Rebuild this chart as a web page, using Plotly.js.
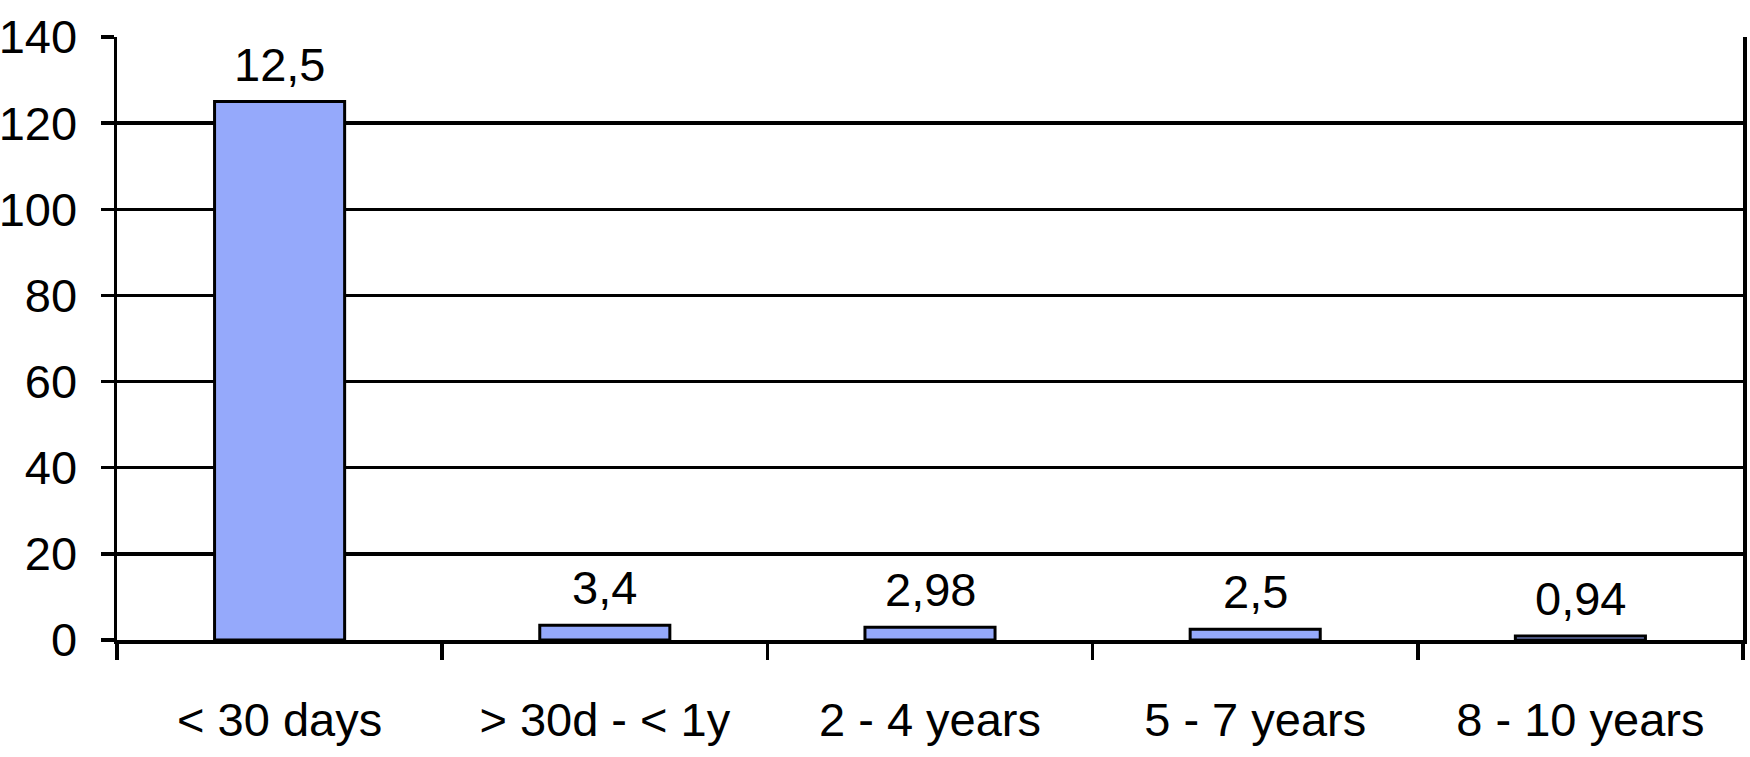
<!DOCTYPE html>
<html>
<head>
<meta charset="utf-8">
<script src="https://cdn.plot.ly/plotly-3.0.1.min.js"></script>
<style>html,body{margin:0;padding:0;background:#fff;}#chart{width:1750px;height:757px;}</style>
</head>
<body>
<div id="chart"></div>
<script>
const categories = ["< 30 days", "> 30d - < 1y", "2 - 4 years", "5 - 7 years", "8 - 10 years"];
const barHeights = [125, 3.4, 2.98, 2.5, 0.94];
const barLabels = ["12,5", "3,4", "2,98", "2,5", "0,94"];
const yTickValues = [0, 20, 40, 60, 80, 100, 120, 140];

const FONT = "Liberation Sans, Arial, Helvetica, sans-serif";
const FS = 47;

const trace = {
  type: "bar",
  x: categories,
  y: barHeights,
  marker: { color: "#95a9fb", line: { color: "#000", width: 3 } },
  hoverinfo: "skip"
};

const annotations = categories.map((c, i) => ({
  x: c, y: barHeights[i], text: barLabels[i],
  xref: "x", yref: "y", showarrow: false,
  yanchor: "bottom", yshift: 9,
  font: { family: FONT, size: FS, color: "#000" }
}));

const layout = {
  width: 1750, height: 757,
  margin: { l: 117, r: 7, t: 37, b: 117, pad: 0 },
  paper_bgcolor: "#fff", plot_bgcolor: "#fff",
  showlegend: false,
  bargap: 0.6,
  font: { family: FONT, size: FS, color: "#000" },
  xaxis: {
    type: "category",
    tickson: "boundaries",
    ticks: "outside", ticklen: 16, tickwidth: 3.5, tickcolor: "#000",
    showline: true, linecolor: "#000", linewidth: 3.5,
    showgrid: false, zeroline: false,
    ticklabelstandoff: 36,
    tickfont: { family: FONT, size: FS, color: "#000" }
  },
  yaxis: {
    range: [0, 140],
    tickvals: yTickValues,
    ticktext: yTickValues.map(String),
    ticks: "outside", ticklen: 13, tickwidth: 3.5, tickcolor: "#000",
    showline: true, linecolor: "#000", linewidth: 3.5, mirror: true,
    showgrid: true, gridcolor: "#000", gridwidth: 3.5,
    zeroline: false,
    ticklabelstandoff: 14,
    tickfont: { family: FONT, size: FS, color: "#000" }
  },
  annotations: annotations
};

Plotly.newPlot("chart", [trace], layout, { staticPlot: true, displayModeBar: false });
</script>
</body>
</html>
